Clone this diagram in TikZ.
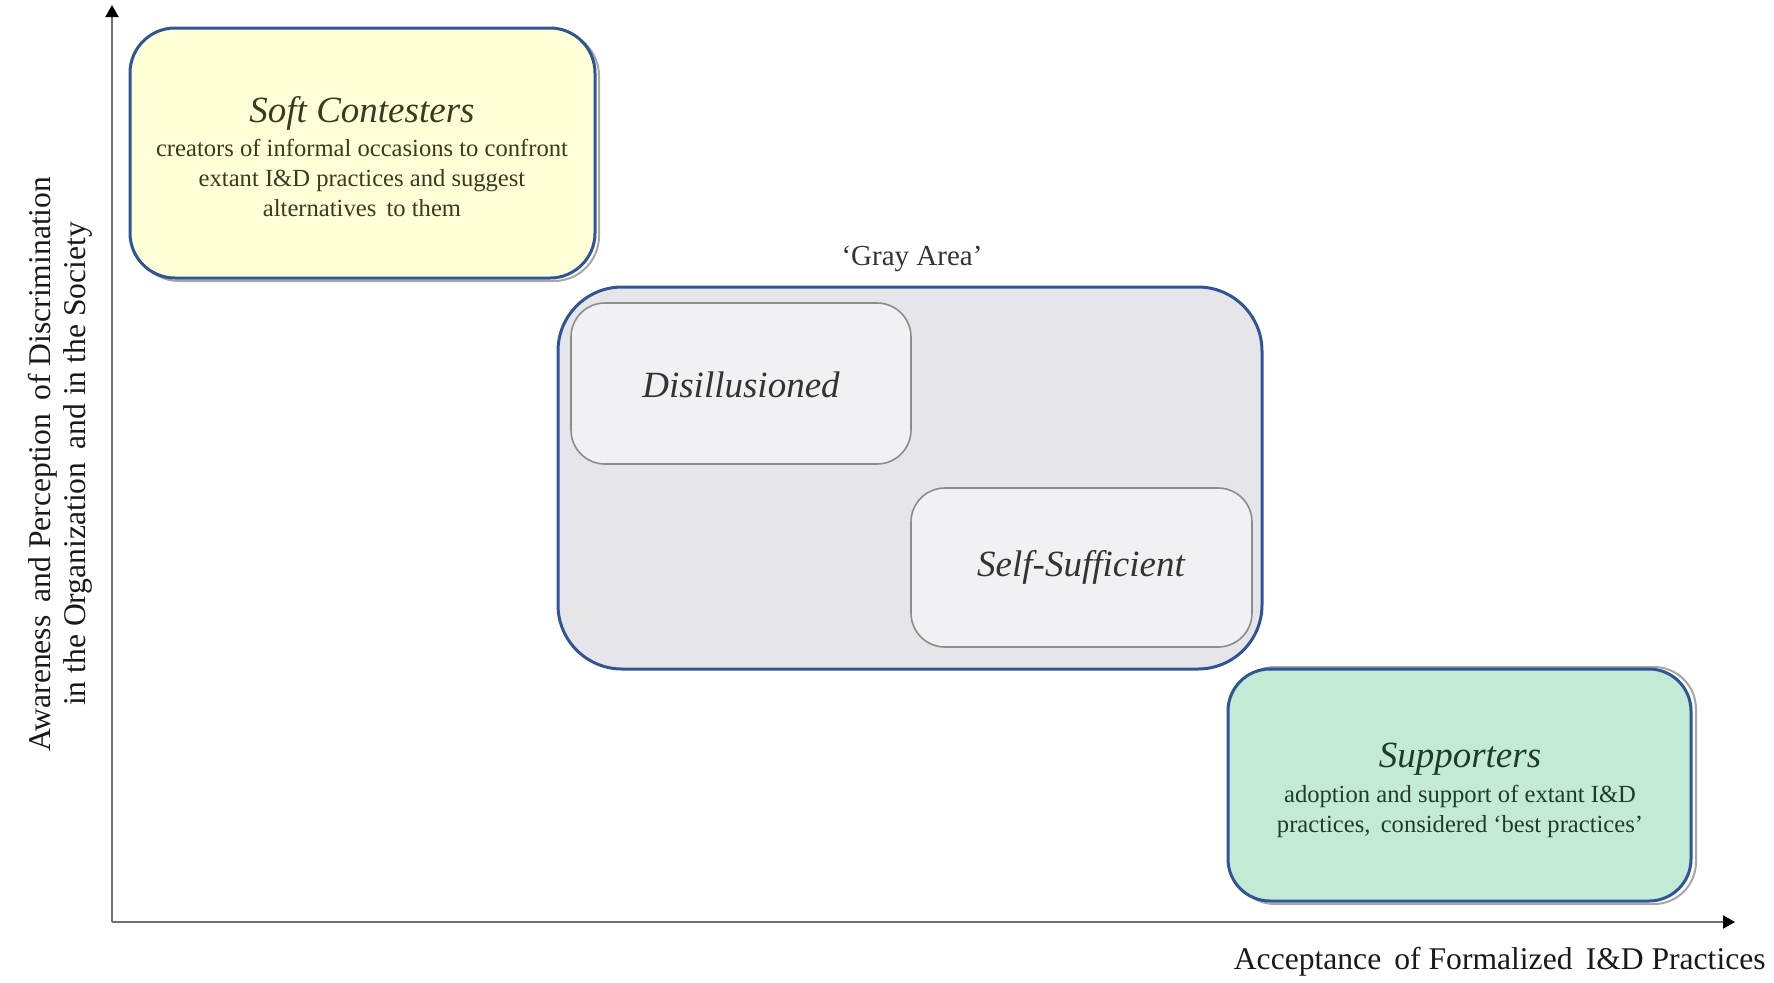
\documentclass[tikz,border=0pt]{standalone}
\usepackage{fontspec}
\setmainfont{Liberation Serif}
\usetikzlibrary{arrows.meta}
\definecolor{bordblue}{HTML}{2F5597}
\definecolor{softfill}{HTML}{FFFFD7}
\definecolor{suppfill}{HTML}{C2EAD5}
\definecolor{grayfill}{HTML}{E6E5EA}
\definecolor{innerfill}{HTML}{F1F0F3}
\definecolor{innerline}{HTML}{8C8C8C}
\definecolor{shadowline}{HTML}{A6A6A6}
\definecolor{softtext}{HTML}{3A3A20}
\definecolor{supptext}{HTML}{1F3B2B}
\definecolor{graytext}{HTML}{333333}
\definecolor{axisline}{HTML}{6F6F6F}
\tikzset{
  bigbox/.style={draw=bordblue,line width=1.5pt,rounded corners=22.5pt},
  shadowbox/.style={draw=shadowline,line width=1pt,fill=white,rounded corners=22.5pt},
  innerbox/.style={draw=innerline,line width=0.8pt,fill=innerfill,rounded corners=17pt},
  titletext/.style={font=\fontsize{18.5}{22}\selectfont\itshape,inner sep=0pt},
  bodytext/.style={font=\fontsize{12.3}{15}\selectfont,inner sep=0pt,align=center},
  axistext/.style={font=\fontsize{15.8}{17.5}\selectfont,inner sep=0pt,align=center,text=black!90},
  axisarrow/.style={draw=axisline,line width=1pt,-{Triangle[length=6pt,width=6.5pt,color=black]}}
}
\begin{document}
\begin{tikzpicture}[x=0.5pt,y=-0.5pt]
\useasboundingbox (0,0) rectangle (1774,982);
% axes
\coordinate (origin) at (112,922);
\coordinate (ytop) at (112,5);
\coordinate (xend) at (1735,922);
\draw[axisarrow] (origin) -- (ytop);
\draw[axisarrow] (origin) -- (xend);
% Soft Contesters
\draw[shadowbox] (134,31) rectangle (599,281);
\draw[bigbox,fill=softfill] (130,28) rectangle (595,278);
\node[titletext,text=softtext] (softT) at (362,113) {Soft Contesters};
\node[bodytext,text=softtext,anchor=north] (softB) at (362,139)
  {creators of informal occasions to confront\\extant I\&D practices and suggest\\alternatives\, to them};
% Gray area
\node[font=\fontsize{14.5}{17}\selectfont,inner sep=0pt,text=graytext] (grayL) at (912,259) {‘Gray Area’};
\draw[bigbox,fill=grayfill,rounded corners=32pt] (558,287) rectangle (1262,669);
\draw[innerbox] (571,303) rectangle (911,464);
\node[titletext,text=graytext] (dis) at (741,385) {Disillusioned};
\draw[innerbox] (911,488) rectangle (1252,647);
\node[titletext,text=graytext] (self) at (1081,567) {Self-Sufficient};
% Supporters
\draw[shadowbox,rounded corners=21pt] (1233,667) rectangle (1696,904);
\draw[bigbox,fill=suppfill,rounded corners=21pt] (1228,669) rectangle (1691,901);
\node[titletext,text=supptext] (suppT) at (1460,759) {Supporters};
\node[bodytext,text=supptext,anchor=north] (suppB) at (1460,785)
  {adoption and support of extant I\&D\\practices,\, considered ‘best practices’};
% axis labels
\node[axistext,anchor=east] (xlab) at (1766,962) {Acceptance\, of Formalized\, I\&D Practices};
\node[axistext,rotate=90] (ylab) at (60,464) {Awareness\, and Perception\, of Discrimination\\in the Organization\, and in the Society};
\end{tikzpicture}
\end{document}
